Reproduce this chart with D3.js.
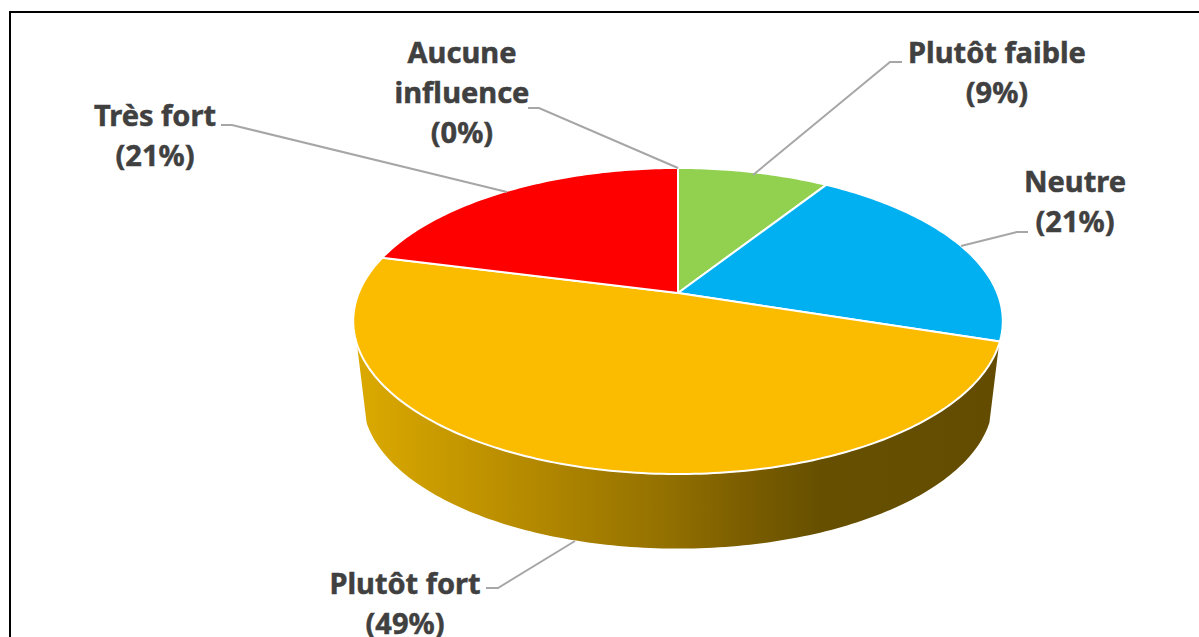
<!DOCTYPE html>
<html>
<head>
<meta charset="utf-8">
<script src="https://cdn.jsdelivr.net/npm/d3@7"></script>
<style>
    html, body { margin: 0; padding: 0; background: #fff; overflow: hidden; }
    .label { font-family: "Noto Sans", sans-serif; font-weight: 700; font-size: 29px; fill: #404040; stroke: #404040; stroke-width: 0.5; text-anchor: middle; }
    .leader { fill: none; stroke: #a6a6a6; stroke-width: 2; }
</style>
</head>
<body>
<div id="chart"></div>
<script>
var values  = [9, 21, 49, 21, 0];
var colours = ['#92d050', '#00b0f0', '#fbbc00', '#ff0000', '#ffc000'];

// label lines, one list per slice
var labelLines = [['Plutôt faible', '(9%)'], ['Neutre', '(21%)'], ['Plutôt fort', '(49%)'], ['Très fort', '(21%)'], ['Aucune', 'influence', '(0%)']];

var width = 1199, height = 637;

// 3D pie: a circle seen in perspective
var cx = 678, cy = 293, radiusX = 319.3, radiusY = 147.9, tilt = 0.183;

// lower rim of the wall is a bit smaller and further down
var rimScale = 0.97, rimDrop = 80, wallStartY = 342;

var project = function (angle)
{
    var u = Math.sin(angle), v = Math.cos(angle);
    var w = 1 + tilt * v;
    return [cx + radiusX * u / w, cy - radiusY * v / w];
};

var pie = d3.pie().sort(null).value(function (d) { return d; });
var arcs = pie(values);

var line = d3.line();

var arcPoints = function (a0, a1)
{
    var n = Math.max(2, Math.ceil((a1 - a0) * 60));
    return d3.range(n + 1).map(function (i) { return project(a0 + (a1 - a0) * i / n); });
};

var svg = d3.select('#chart').append('svg').attr('width', width).attr('height', height);

svg.append('rect').attr('width', width).attr('height', height).attr('fill', '#fff');

// frame
svg.append('rect')
   .attr('x', 10).attr('y', 12)
   .attr('width', width + 20).attr('height', height + 20)
   .attr('fill', 'none').attr('stroke', '#000').attr('stroke-width', 2);

// wall gradient
var grad = svg.append('defs').append('linearGradient')
              .attr('id', 'wall').attr('gradientUnits', 'userSpaceOnUse')
              .attr('x1', 355).attr('x2', 1000).attr('y1', 0).attr('y2', 0);
var stops = [[0, '#dcaa00'], [0.3, '#b08600'], [0.47, '#957200'], [0.6, '#7c5e00'], [0.72, '#665000'], [1, '#634c00']];
stops.forEach(function (s)
{
    grad.append('stop').attr('offset', s[0]).attr('stop-color', s[1]);
});

// wall of the big slice
var big = arcs[2];
var front = arcPoints(big.startAngle, big.endAngle);
var wallTop = front.filter(function (p) { return p[1] >= wallStartY; });
var wallBottom = wallTop.map(function (p)
{
    return [cx + rimScale * (p[0] - cx), cy + rimDrop + rimScale * (p[1] - cy)];
}).reverse();

svg.append('path')
   .attr('d', line(wallTop.concat(wallBottom)) + 'Z')
   .attr('fill', 'url(#wall)');

// slices
svg.selectAll('path.slice')
   .data(arcs.filter(function (d) { return d.value > 0; }))
   .enter()
   .append('path')
   .attr('class', 'slice')
   .attr('d', function (d) { return line([[cx, cy]].concat(arcPoints(d.startAngle, d.endAngle))) + 'Z'; })
   .attr('fill', function (d, i) { return colours[i]; })
   .attr('stroke', '#fff')
   .attr('stroke-width', 2)
   .attr('stroke-linejoin', 'round');

// leader lines
var leaders = [
    [[753, 175], [890, 62], [902, 62]],
    [[961, 246], [1017, 232], [1028, 232]],
    [[575, 541], [498, 588], [486, 588]],
    [[507, 192], [232, 125], [221, 125]],
    [[678, 168], [539, 108], [528, 108]]
];
svg.selectAll('path.leader')
   .data(leaders)
   .enter()
   .append('path')
   .attr('class', 'leader')
   .attr('d', line);

// labels
var labelX = [997, 1075, 405, 155, 462];
var labelY = [63, 192, 594, 126, 63];
var lineStep = 40;

labelLines.forEach(function (lines, i)
{
    lines.forEach(function (t, j)
    {
        svg.append('text')
           .attr('class', 'label')
           .attr('x', labelX[i])
           .attr('y', labelY[i] + j * lineStep)
           .text(t);
    });
});
</script>
</body>
</html>
